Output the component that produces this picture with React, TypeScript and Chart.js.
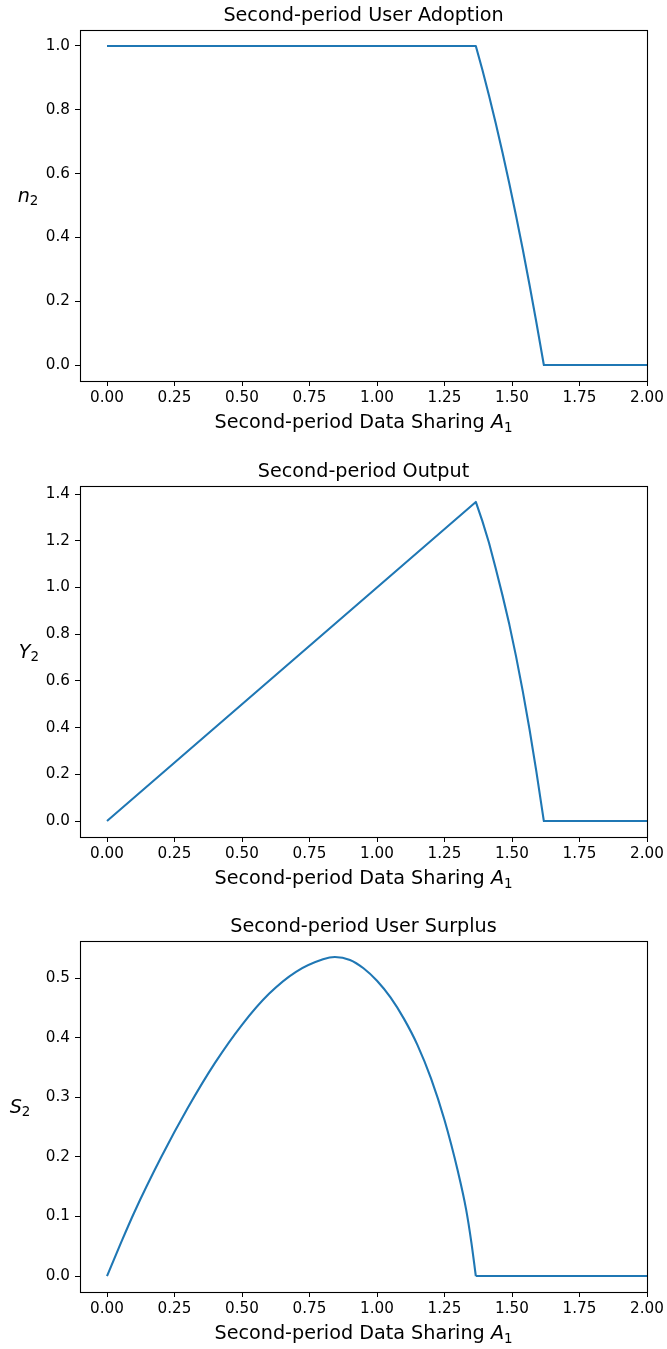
import React, { useEffect, useRef } from "react";
import { Chart, registerables } from "chart.js";

Chart.register(...registerables);

// ---------- data ----------
const xTickValues = [0, 0.25, 0.5, 0.75, 1.0, 1.25, 1.5, 1.75, 2.0];

const adoptionA = [0, 1.366, 1.39, 1.415, 1.44, 1.465, 1.49, 1.515, 1.54, 1.565, 1.59, 1.618, 2.0];
const adoptionN = [1, 1, 0.926, 0.844, 0.757, 0.665, 0.569, 0.468, 0.362, 0.251, 0.135, 0, 0];
const adoptionTicks = [0, 0.2, 0.4, 0.6, 0.8, 1.0];

const outputA = [0, 1.366, 1.39, 1.415, 1.44, 1.465, 1.49, 1.515, 1.54, 1.565, 1.59, 1.618, 2.0];
const outputY = [0, 1.366, 1.285, 1.19, 1.08, 0.965, 0.842, 0.705, 0.555, 0.392, 0.214, 0, 0];
const outputTicks = [0, 0.2, 0.4, 0.6, 0.8, 1.0, 1.2, 1.4];

const surplusA = [0, 0.05, 0.1, 0.2, 0.3, 0.4, 0.5, 0.6, 0.7, 0.8, 0.844, 0.9, 0.95, 1.0, 1.05, 1.1, 1.15, 1.2, 1.25, 1.3, 1.33, 1.35, 1.366];
const surplusS = [0, 0.054, 0.106, 0.199, 0.283, 0.358, 0.422, 0.474, 0.511, 0.532, 0.536, 0.531, 0.517, 0.496, 0.468, 0.432, 0.388, 0.332, 0.262, 0.175, 0.112, 0.055, 0];
const surplusFlatA = [1.366, 2.0];
const surplusFlatS = [0, 0];
const surplusTicks = [0, 0.1, 0.2, 0.3, 0.4, 0.5];

const LINE = "#1f77b4";
const FONT = '"DejaVu Sans", "Liberation Sans", sans-serif';
const TICK_SIZE = 15.2;
const LABEL_SIZE = 19.2;

type Part = { t: string; italic?: boolean; sub?: boolean };

function drawMath(ctx: CanvasRenderingContext2D, parts: Part[], cx: number, baseline: number, size: number) {
  const fontFor = (p: Part) =>
    `${p.italic ? "italic " : ""}${p.sub ? size * 0.7 : size}px ${FONT}`;
  let total = 0;
  const widths = parts.map((p) => {
    ctx.font = fontFor(p);
    const w = ctx.measureText(p.t).width;
    total += w;
    return w;
  });
  let x = cx - total / 2;
  ctx.textAlign = "left";
  ctx.textBaseline = "alphabetic";
  parts.forEach((p, i) => {
    ctx.font = fontFor(p);
    ctx.fillText(p.t, x, baseline + (p.sub ? size * 0.2 : 0));
    x += widths[i];
  });
}

const decor = {
  id: "decor",
  afterDraw(chart: any, _args: any, o: any) {
    const { ctx, chartArea } = chart;
    const { left, right, top, bottom } = chartArea;
    ctx.save();
    ctx.strokeStyle = "#000";
    ctx.lineWidth = 1.1;
    ctx.strokeRect(Math.round(left) + 0.5, Math.round(top) + 0.5, Math.round(right - left), Math.round(bottom - top));
    ctx.fillStyle = "#000";
    ctx.font = `${LABEL_SIZE}px ${FONT}`;
    ctx.textAlign = "center";
    ctx.textBaseline = "alphabetic";
    ctx.fillText(o.title, (left + right) / 2, top - 9);
    drawMath(
      ctx,
      [{ t: "Second-period Data Sharing " }, { t: "A", italic: true }, { t: "1", sub: true }],
      (left + right) / 2,
      bottom + 47,
      LABEL_SIZE
    );
    drawMath(ctx, [{ t: o.yVar, italic: true }, { t: "2", sub: true }], o.yLabelX, (top + bottom) / 2 - 4, LABEL_SIZE);
    ctx.restore();
  },
};

type Spec = {
  title: string;
  yVar: string;
  yLabelX: number;
  series: { xs: number[]; ys: number[]; smooth?: boolean }[];
  yMin: number;
  yMax: number;
  yTicks: number[];
  yDigits: number;
};

function Panel({ spec, top }: { spec: Spec; top: number }) {
  const ref = useRef<HTMLCanvasElement>(null);
  useEffect(() => {
    const canvas = ref.current!;
    const chart = new Chart(canvas, {
      type: "line",
      data: {
        datasets: spec.series.map((s) => ({
          data: s.xs.map((x, i) => ({ x, y: s.ys[i] })),
          borderColor: LINE,
          borderWidth: 2.1,
          pointRadius: 0,
          fill: false,
          tension: 0,
          cubicInterpolationMode: s.smooth ? "monotone" : "default",
          borderJoinStyle: "round",
        })),
      },
      options: {
        responsive: false,
        animation: false,
        devicePixelRatio: 1,
        layout: { padding: { top: 30, right: 20, left: 0, bottom: 0 } },
        plugins: {
          legend: { display: false },
          tooltip: { enabled: false },
          title: { display: false },
          decor: { title: spec.title, yVar: spec.yVar, yLabelX: spec.yLabelX },
        } as any,
        scales: {
          x: {
            type: "linear",
            min: -0.1,
            max: 2.0,
            afterBuildTicks: (scale: any) => {
              scale.ticks = xTickValues.map((v) => ({ value: v }));
            },
            afterFit: (scale: any) => {
              scale.height = 64;
              scale.paddingLeft = 0;
              scale.paddingRight = 0;
            },
            ticks: {
              color: "#000",
              font: { family: FONT, size: TICK_SIZE },
              padding: 3,
              maxRotation: 0,
              autoSkip: false,
              callback: (v: any) => Number(v).toFixed(2),
            },
            grid: { display: true, drawOnChartArea: false, drawTicks: true, tickLength: 5, color: "#000", lineWidth: 1 },
            border: { display: false },
          },
          y: {
            type: "linear",
            min: spec.yMin,
            max: spec.yMax,
            afterBuildTicks: (scale: any) => {
              scale.ticks = spec.yTicks.map((v) => ({ value: v }));
            },
            afterFit: (scale: any) => {
              scale.width = 80;
              scale.paddingTop = 0;
              scale.paddingBottom = 0;
            },
            ticks: {
              color: "#000",
              font: { family: FONT, size: TICK_SIZE },
              padding: 5,
              autoSkip: false,
              callback: (v: any) => Number(v).toFixed(spec.yDigits),
            },
            grid: { display: true, drawOnChartArea: false, drawTicks: true, tickLength: 5, color: "#000", lineWidth: 1 },
            border: { display: false },
          },
        },
      } as any,
      plugins: [decor],
    });
    return () => chart.destroy();
  }, [spec]);
  return (
    <canvas
      ref={ref}
      width={667}
      height={445}
      style={{ position: "absolute", left: 0, top, width: 667, height: 445 }}
    />
  );
}

const specs: Spec[] = [
  {
    title: "Second-period User Adoption",
    yVar: "n",
    yLabelX: 28,
    series: [{ xs: adoptionA, ys: adoptionN }],
    yMin: -0.05,
    yMax: 1.05,
    yTicks: adoptionTicks,
    yDigits: 1,
  },
  {
    title: "Second-period Output",
    yVar: "Y",
    yLabelX: 29,
    series: [{ xs: outputA, ys: outputY }],
    yMin: -0.0683,
    yMax: 1.4343,
    yTicks: outputTicks,
    yDigits: 1,
  },
  {
    title: "Second-period User Surplus",
    yVar: "S",
    yLabelX: 20,
    series: [
      { xs: surplusA, ys: surplusS, smooth: true },
      { xs: surplusFlatA, ys: surplusFlatS },
    ],
    yMin: -0.0268,
    yMax: 0.5628,
    yTicks: surplusTicks,
    yDigits: 1,
  },
];

export default function App() {
  const tops = [0, 456, 911];
  return (
    <div
      style={{
        position: "absolute",
        left: 0,
        top: 0,
        width: 667,
        height: 1349,
        overflow: "hidden",
        background: "#fff",
      }}
    >
      {specs.map((s, i) => (
        <Panel key={i} spec={s} top={tops[i]} />
      ))}
    </div>
  );
}
